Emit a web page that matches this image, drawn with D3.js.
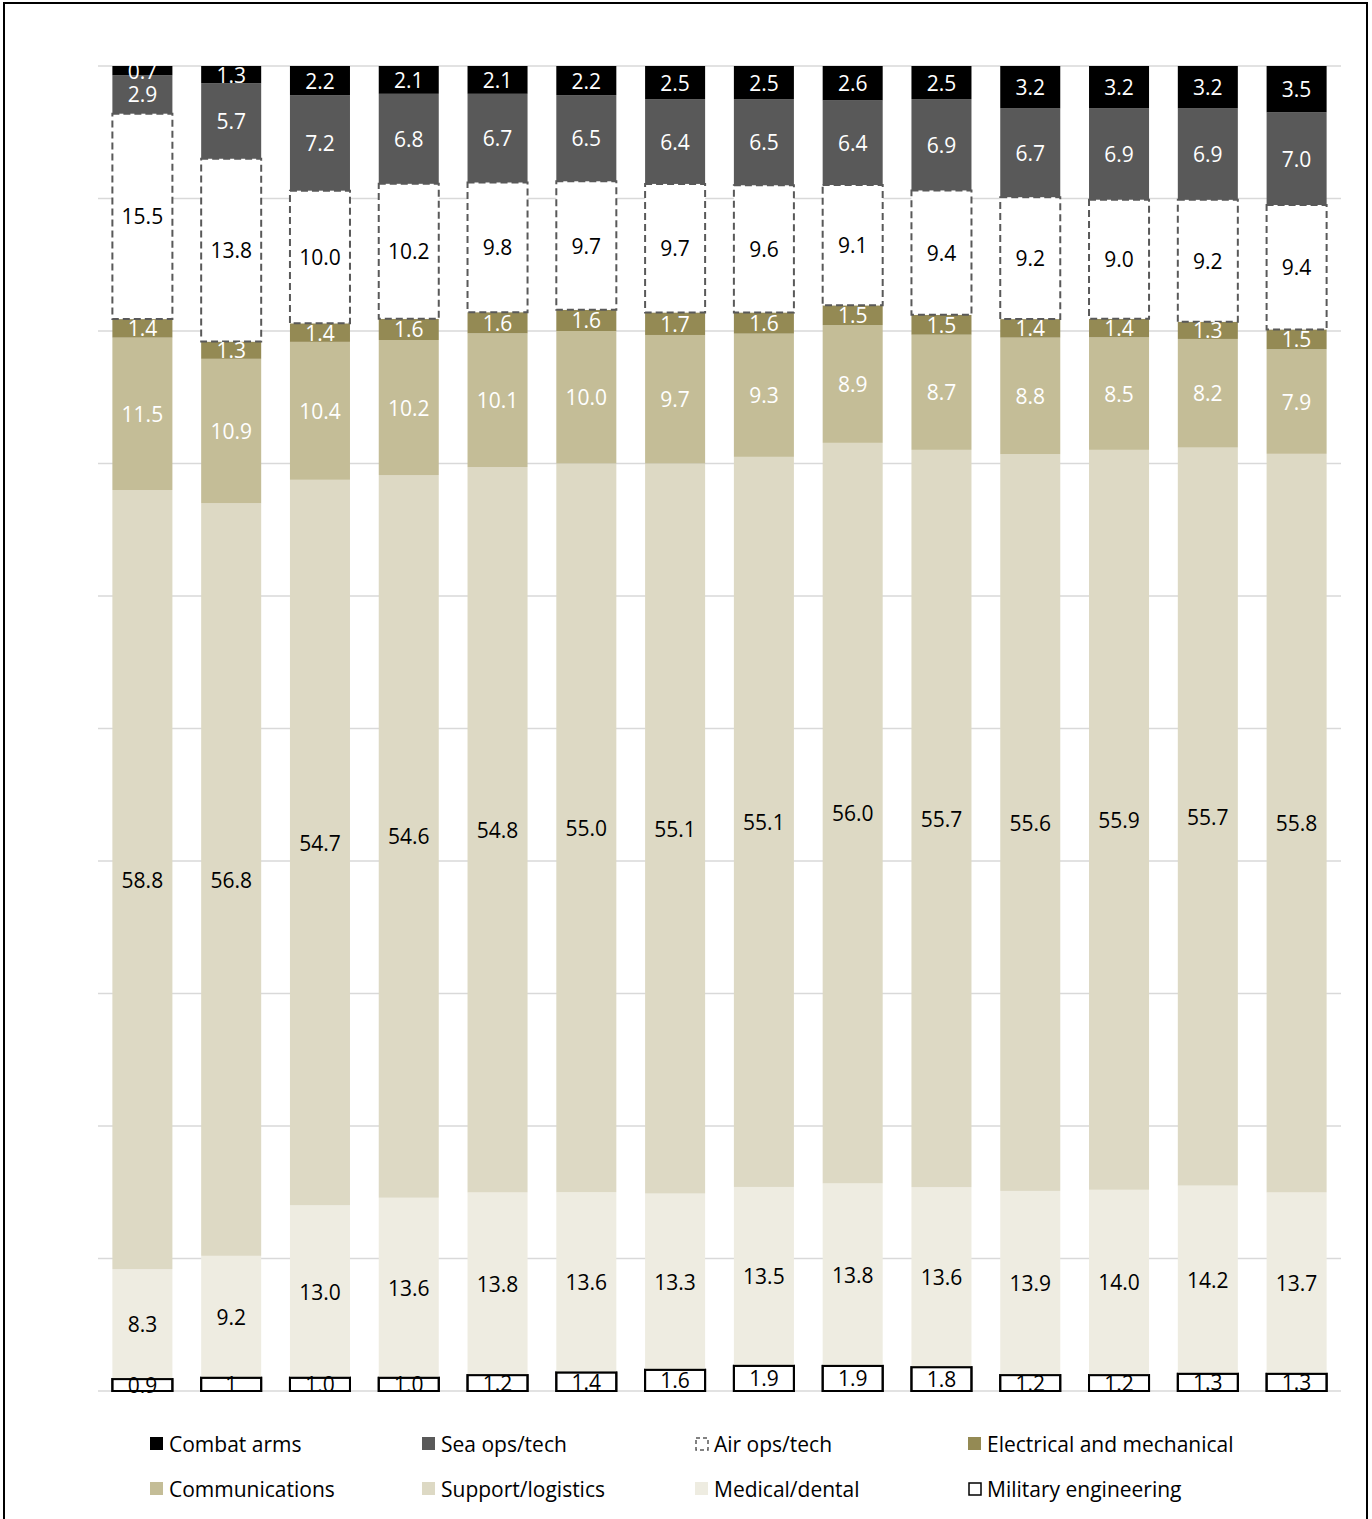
<!DOCTYPE html>
<html>
<head>
<meta charset="utf-8">
<script src="https://cdn.jsdelivr.net/npm/d3@7"></script>
<style>
  html, body { margin: 0; padding: 0; background: #fff; }
  svg { display: block; }
  text { font-family: "Open Sans", "Noto Sans", sans-serif; }
</style>
</head>
<body>
<svg id="chart" width="1372" height="1519"></svg>
<script>
// ---------- DATA ----------
const categories = ["1","2","3","4","5","6","7","8","9","10","11","12","13","14"];
// stack order bottom -> top
const seriesNames = ["Military engineering","Medical/dental","Support/logistics","Communications",
                     "Electrical and mechanical","Air ops/tech","Sea ops/tech","Combat arms"];
const militaryEngineering = [0.9,1,1.0,1.0,1.2,1.4,1.6,1.9,1.9,1.8,1.2,1.2,1.3,1.3];
const medicalDental       = [8.3,9.2,13.0,13.6,13.8,13.6,13.3,13.5,13.8,13.6,13.9,14.0,14.2,13.7];
const supportLogistics    = [58.8,56.8,54.7,54.6,54.8,55.0,55.1,55.1,56.0,55.7,55.6,55.9,55.7,55.8];
const communications      = [11.5,10.9,10.4,10.2,10.1,10.0,9.7,9.3,8.9,8.7,8.8,8.5,8.2,7.9];
const electricalMech      = [1.4,1.3,1.4,1.6,1.6,1.6,1.7,1.6,1.5,1.5,1.4,1.4,1.3,1.5];
const airOpsTech          = [15.5,13.8,10.0,10.2,9.8,9.7,9.7,9.6,9.1,9.4,9.2,9.0,9.2,9.4];
const seaOpsTech          = [2.9,5.7,7.2,6.8,6.7,6.5,6.4,6.5,6.4,6.9,6.7,6.9,6.9,7.0];
const combatArms          = [0.7,1.3,2.2,2.1,2.1,2.2,2.5,2.5,2.6,2.5,3.2,3.2,3.2,3.5];
// label texts as shown
const militaryEngineeringLabels = ["0.9","1","1.0","1.0","1.2","1.4","1.6","1.9","1.9","1.8","1.2","1.2","1.3","1.3"];
const yTicks = [0,0.1,0.2,0.3,0.4,0.5,0.6,0.7,0.8,0.9,1.0];

const seriesValues = [militaryEngineering, medicalDental, supportLogistics, communications,
                      electricalMech, airOpsTech, seaOpsTech, combatArms];

// ---------- STYLE ----------
const styles = {
  "Military engineering":      {fill:"#ffffff", stroke:"#000000", dash:null, text:"#000"},
  "Medical/dental":            {fill:"#EEECE1", stroke:null, dash:null, text:"#000"},
  "Support/logistics":         {fill:"#DDD9C4", stroke:null, dash:null, text:"#000"},
  "Communications":            {fill:"#C4BD97", stroke:null, dash:null, text:"#fff"},
  "Electrical and mechanical": {fill:"#948A54", stroke:null, dash:null, text:"#fff"},
  "Air ops/tech":              {fill:"#ffffff", stroke:"#595959", dash:"7,4", text:"#000"},
  "Sea ops/tech":              {fill:"#595959", stroke:null, dash:null, text:"#fff"},
  "Combat arms":               {fill:"#000000", stroke:null, dash:null, text:"#fff"}
};

const rows = categories.map((c, i) => {
  const r = {cat: c, idx: i};
  seriesNames.forEach((s, k) => r[s] = seriesValues[k][i]);
  return r;
});

const stack = d3.stack().keys(seriesNames).offset(d3.stackOffsetExpand);
const stacked = stack(rows);

const svg = d3.select("#chart");
const W = 1372, H = 1519;

// outer frame
svg.append("rect").attr("x", 4).attr("y", 3).attr("width", 1363).attr("height", 1540)
  .attr("fill", "none").attr("stroke", "#000").attr("stroke-width", 2);

const x = d3.scaleBand().domain(categories).range([98, 1341]).paddingInner(0.324).paddingOuter(0.162);
const y = d3.scaleLinear().domain([0, 1]).range([1391, 66]);

// gridlines
svg.append("g").selectAll("line").data(yTicks).join("line")
  .attr("x1", 98).attr("x2", 1341)
  .attr("y1", d => y(d)).attr("y2", d => y(d))
  .attr("stroke", "#d9d9d9").attr("stroke-width", 1.5);

// bars
const layers = svg.append("g").selectAll("g").data(stacked).join("g");
layers.selectAll("rect").data(d => d.map(v => ({key: d.key, v}))).join("rect")
  .attr("x", d => x(d.v.data.cat))
  .attr("width", x.bandwidth())
  .attr("y", d => y(d.v[1]))
  .attr("height", d => y(d.v[0]) - y(d.v[1]))
  .attr("fill", d => styles[d.key].fill)
  .attr("stroke", d => styles[d.key].stroke || "none")
  .attr("stroke-width", d => styles[d.key].stroke ? 2 : 0)
  .attr("stroke-dasharray", d => styles[d.key].dash);

// labels
const labels = svg.append("g");
stacked.forEach((layer, k) => {
  const key = layer.key;
  labels.selectAll(null).data(layer).join("text")
    .attr("x", d => x(d.data.cat) + x.bandwidth() / 2)
    .attr("y", d => (y(d[0]) + y(d[1])) / 2)
    .attr("text-anchor", "middle")
    .attr("dominant-baseline", "central")
    .attr("font-size", 21)
    .attr("fill", styles[key].text)
    .text((d, i) => key === "Military engineering" ? militaryEngineeringLabels[i] : seriesValues[k][i].toFixed(1));
});

// redraw military engineering outlines over labels
const me = stacked[0];
svg.append("g").selectAll("rect").data(me).join("rect")
  .attr("x", d => x(d.data.cat)).attr("width", x.bandwidth())
  .attr("y", d => y(d[1])).attr("height", d => y(d[0]) - y(d[1]))
  .attr("fill", "none").attr("stroke", "#000").attr("stroke-width", 2);

// legend
const legendOrder = ["Combat arms","Sea ops/tech","Air ops/tech","Electrical and mechanical",
                     "Communications","Support/logistics","Medical/dental","Military engineering"];
const colX = [150, 422, 695, 968];
const rowY = [1444, 1489];
const lg = svg.append("g").selectAll("g").data(legendOrder).join("g")
  .attr("transform", (d, i) => `translate(${colX[i % 4]},${rowY[Math.floor(i / 4)]})`);
lg.append("rect")
  .attr("x", d => styles[d].stroke ? 1 : 0).attr("y", d => styles[d].stroke ? -6 : -7)
  .attr("width", d => styles[d].stroke ? 12 : 13).attr("height", d => styles[d].stroke ? 12 : 13)
  .attr("fill", d => styles[d].fill)
  .attr("stroke", d => styles[d].stroke || "none")
  .attr("stroke-width", d => styles[d].stroke ? 1.5 : 0)
  .attr("stroke-dasharray", d => styles[d].dash ? "4,3" : null);
lg.append("text").attr("x", 19).attr("y", 0)
  .attr("dominant-baseline", "central")
  .attr("font-size", 21).attr("fill", "#000")
  .text(d => d);
</script>
</body>
</html>
